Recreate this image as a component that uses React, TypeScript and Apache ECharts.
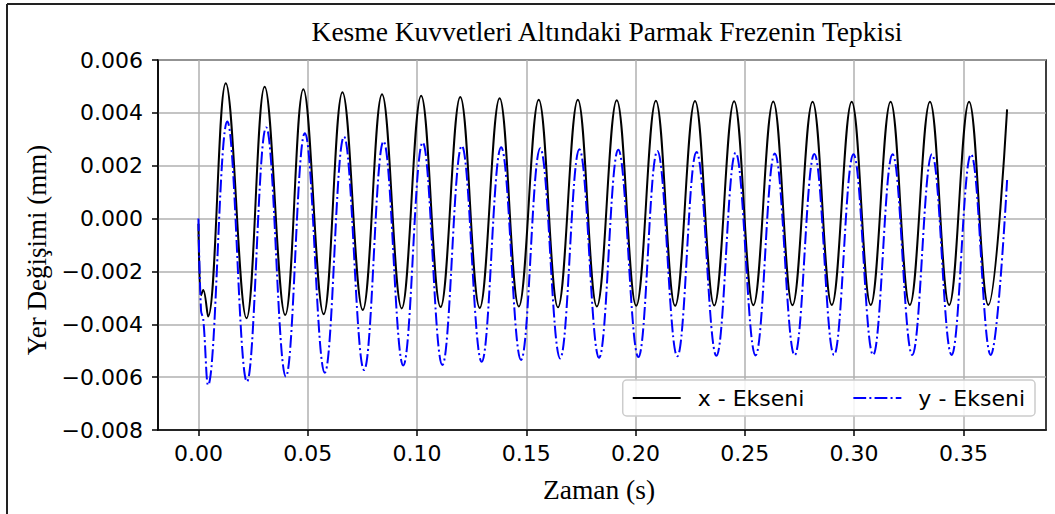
import React, { useEffect, useRef } from "react";
import * as echarts from "echarts";

const titleText = "Kesme Kuvvetleri Altındaki Parmak Frezenin Tepkisi";
const xAxisName = "Zaman (s)";
const yAxisName = "Yer Değişimi (mm)";
const seriesNames = ["x - Ekseni", "y - Ekseni"];
const xTicks = [0, 0.05, 0.1, 0.15, 0.2, 0.25, 0.3, 0.35];

// x - Ekseni (black, solid)
const xStartTimes = [0, 0.0012, 0.0022];
const xStartValues = [-0.0002, -0.0029, -0.0027];
const xTroughTimes = [0.0044, 0.022, 0.0397, 0.0573, 0.0752, 0.093, 0.1108, 0.1287, 0.1466, 0.1645, 0.1823, 0.2003, 0.2181, 0.236, 0.2539, 0.2718, 0.2898, 0.3076, 0.3255, 0.3435, 0.3614];
const xTroughValues = [-0.00371, -0.00377, -0.00365, -0.00362, -0.00346, -0.0034, -0.00335, -0.00338, -0.00333, -0.00336, -0.00333, -0.0033, -0.0033, -0.00329, -0.00328, -0.00328, -0.00327, -0.00327, -0.00327, -0.00327, -0.00327];
const xPeakTimes = [0.0125, 0.0303, 0.048, 0.0659, 0.084, 0.1019, 0.1198, 0.1378, 0.1557, 0.1736, 0.1914, 0.2093, 0.2272, 0.2451, 0.263, 0.281, 0.2989, 0.3167, 0.3347, 0.3526];
const xPeakValues = [0.00512, 0.00499, 0.00489, 0.00478, 0.0047, 0.00465, 0.0046, 0.00455, 0.0045, 0.0045, 0.00448, 0.00446, 0.00445, 0.00444, 0.00443, 0.00442, 0.00442, 0.00442, 0.00442, 0.00442];
const xEndTime = 0.37;
const xEndValue = 0.00413;

// y - Ekseni (blue, dash-dot)
const yStartTimes = [0, 0.0012, 0.0022];
const yStartValues = [0, -0.0035, -0.0038];
const yTroughTimes = [0.0044, 0.0222, 0.04, 0.0578, 0.0758, 0.0937, 0.1116, 0.1296, 0.1476, 0.1655, 0.1833, 0.2013, 0.2191, 0.237, 0.2549, 0.2728, 0.2908, 0.3087, 0.3266, 0.3446, 0.3625];
const yTroughValues = [-0.0063, -0.00617, -0.00598, -0.00583, -0.00573, -0.00556, -0.00554, -0.00542, -0.00535, -0.00529, -0.00527, -0.00524, -0.00521, -0.00519, -0.00518, -0.00517, -0.00516, -0.00516, -0.00516, -0.00516, -0.00516];
const yPeakTimes = [0.0132, 0.031, 0.0487, 0.0666, 0.0847, 0.1026, 0.1205, 0.1385, 0.1564, 0.1743, 0.1921, 0.21, 0.2279, 0.2458, 0.2637, 0.2818, 0.2997, 0.3176, 0.3356, 0.3535];
const yPeakValues = [0.00367, 0.00345, 0.00323, 0.0031, 0.00292, 0.00288, 0.00275, 0.0027, 0.00266, 0.00262, 0.0026, 0.00256, 0.00252, 0.00249, 0.00246, 0.00244, 0.00243, 0.00243, 0.00243, 0.00243];
const yEndTime = 0.37;
const yEndValue = 0.00146;

function buildSeries(
  st: number[], sv: number[], tt: number[], tv: number[], pt: number[], pv: number[], et: number, ev: number
) {
  const out: [number, number][] = [];
  st.forEach((t, i) => out.push([t, sv[i]]));
  tt.forEach((t, i) => {
    out.push([t, tv[i]]);
    if (i < pt.length) out.push([pt[i], pv[i]]);
  });
  out.push([et, ev]);
  return out;
}

const SERIF = "'Liberation Serif', 'Times New Roman', serif";
const SANS = "'DejaVu Sans', sans-serif";

export default function App() {
  const ref = useRef<HTMLDivElement>(null);
  useEffect(() => {
    if (!ref.current) return;
    const chart = echarts.init(ref.current, undefined, { renderer: "svg" });
    const xData = buildSeries(xStartTimes, xStartValues, xTroughTimes, xTroughValues, xPeakTimes, xPeakValues, xEndTime, xEndValue);
    const yData = buildSeries(yStartTimes, yStartValues, yTroughTimes, yTroughValues, yPeakTimes, yPeakValues, yEndTime, yEndValue);
    chart.setOption({
      animation: false,
      backgroundColor: "#ffffff",
      grid: {
        left: 158, top: 60, width: 888, height: 370,
        show: true, borderColor: "#000", borderWidth: 1.5, backgroundColor: "transparent",
      },
      xAxis: {
        type: "value", min: -0.0185, max: 0.3878,
        axisLine: { onZero: false, lineStyle: { color: "#000", width: 1.5 } },
        axisTick: { show: true, inside: false, length: 6, customValues: xTicks, lineStyle: { color: "#000", width: 1.5 } },
        axisLabel: {
          customValues: xTicks, margin: 12, color: "#000", fontFamily: SANS, fontSize: 22,
          formatter: (v: number) => v.toFixed(2),
        },
        splitLine: { show: true, lineStyle: { color: "#b0b0b0", width: 1.5 } },
      },
      yAxis: {
        type: "value", min: -0.008, max: 0.006, interval: 0.002,
        axisLine: { show: true, onZero: false, lineStyle: { color: "#000", width: 1.5 } },
        axisTick: { show: true, inside: false, length: 6, lineStyle: { color: "#000", width: 1.5 } },
        axisLabel: {
          margin: 15, color: "#000", fontFamily: SANS, fontSize: 22,
          formatter: (v: number) => (Math.abs(v) < 1e-9 ? "0.000" : (v < 0 ? "\u2212" : "") + Math.abs(v).toFixed(3)),
        },
        splitLine: { show: true, lineStyle: { color: "#b0b0b0", width: 1.5 } },
      },
      legend: {
        data: seriesNames, right: 20, top: 380, orient: "horizontal",
        itemWidth: 48, itemHeight: 12, itemGap: 48,
        padding: [7, 10, 7, 9],
        itemStyle: { color: "rgba(0,0,0,0)", borderColor: "rgba(0,0,0,0)", borderWidth: 0, opacity: 0 },
        backgroundColor: "rgba(255,255,255,0.85)", borderColor: "#cccccc", borderWidth: 1.5, borderRadius: 4,
        textStyle: { fontFamily: SANS, fontSize: 22, color: "#000", padding: [0, 0, 0, 12] },
      },
      series: [
        {
          name: seriesNames[0], type: "line", data: xData, smooth: 0.4, symbol: "none", showSymbol: false,
          lineStyle: { color: "#000000", width: 2 }, itemStyle: { color: "#000000" }, z: 3,
        },
        {
          name: seriesNames[1], type: "line", data: yData, smooth: 0.4, symbol: "none", showSymbol: false,
          lineStyle: { color: "#0000ff", width: 2, type: [12.8, 3.2, 2, 3.2] }, itemStyle: { color: "#0000ff" }, z: 4,
        },
      ],
      graphic: [
        { type: "line", shape: { x1: 7, y1: 4, x2: 1055, y2: 4 }, style: { stroke: "#222", lineWidth: 2 } },
        { type: "line", shape: { x1: 7, y1: 4, x2: 7, y2: 514 }, style: { stroke: "#222", lineWidth: 2 } },
        {
          type: "text", x: 607, y: 31,
          style: { text: titleText, font: `27.5px ${SERIF}`, fill: "#000", textAlign: "center", textVerticalAlign: "middle" },
        },
        {
          type: "text", x: 599, y: 489,
          style: { text: xAxisName, font: `27.5px ${SERIF}`, fill: "#000", textAlign: "center", textVerticalAlign: "middle" },
        },
        {
          type: "text", x: 37, y: 250, rotation: Math.PI / 2,
          style: { text: yAxisName, font: `27px ${SERIF}`, fill: "#000", textAlign: "center", textVerticalAlign: "middle" },
        },
      ],
    });
    return () => chart.dispose();
  }, []);
  return <div ref={ref} style={{ position: "fixed", left: 0, top: 0, width: 1055, height: 514 }} />;
}
